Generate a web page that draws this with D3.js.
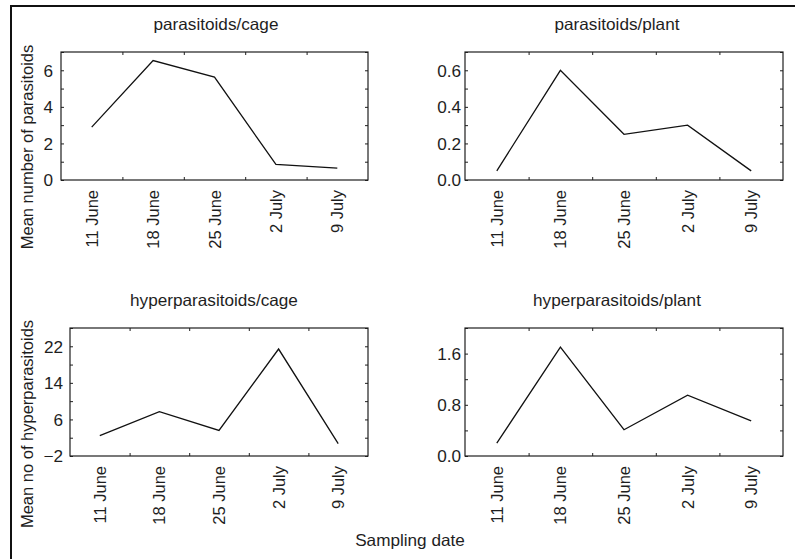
<!DOCTYPE html>
<html>
<head>
<meta charset="utf-8">
<script src="https://cdn.jsdelivr.net/npm/d3@7"></script>
<style>
  html, body { margin: 0; padding: 0; background: #fff; }
  svg { display: block; }
  text { font-family: Arial, "Liberation Sans", sans-serif; fill: #1e1e1e; }
</style>
</head>
<body>
<svg id="chart" width="795" height="559"></svg>
<script>
// ---------------- data ----------------
const dates = ["11 June", "18 June", "25 June", "2 July", "9 July"];
const titles = ["parasitoids/cage", "parasitoids/plant", "hyperparasitoids/cage", "hyperparasitoids/plant"];
const parasitoidsCage = [2.89, 6.53, 5.63, 0.85, 0.65];
const parasitoidsPlant = [0.05, 0.60, 0.25, 0.30, 0.05];
const hyperCage = [2.45, 7.7, 3.6, 21.4, 0.7];
const hyperPlant = [0.2, 1.7, 0.41, 0.95, 0.55];
const yDomains = [[0, 7], [0, 0.7], [-2, 26], [0, 2.0]];
const yMajorTicks = [[0, 2, 4, 6], [0, 0.2, 0.4, 0.6], [-2, 6, 14, 22], [0, 0.8, 1.6]];
const yMinorTicks = [[0,1,2,3,4,5,6,7], [0,0.1,0.2,0.3,0.4,0.5,0.6,0.7], [-2,2,6,10,14,18,22,26], [0,0.4,0.8,1.2,1.6,2.0]];
const yTickFormats = [d3.format("d"), d3.format(".1f"), d3.format("d"), d3.format(".1f")];
const yTitles = ["Mean number of parasitoids", "Mean no of hyperparasitoids"];
const xTitle = "Sampling date";
const seriesList = [parasitoidsCage, parasitoidsPlant, hyperCage, hyperPlant];

// ---------------- layout ----------------
const frames = [
  { x0: 61, x1: 368, y0: 52, y1: 180, titleX: 216, titleY: 30, pad: 8 },
  { x0: 465, x1: 783, y0: 52, y1: 180, titleX: 617, titleY: 30, pad: 4 },
  { x0: 70, x1: 368, y0: 328, y1: 456, titleX: 214, titleY: 306, pad: 7 },
  { x0: 465, x1: 783, y0: 328, y1: 456, titleX: 617, titleY: 306, pad: 4 }
];
const FS = 16.5;     // font size
const SX = 1.04;     // horizontal glyph stretch of the reference
const TICK = 3;
const INK = "#1e1e1e";

const svg = d3.select("#chart");

// outer border (left & top visible)
svg.append("rect").attr("x", 11).attr("y", 6).attr("width", 900).attr("height", 700)
  .attr("fill", "none").attr("stroke", "#111").attr("stroke-width", 2);

function stretchAt(x, y) {
  return `translate(${x},${y}) scale(${SX},1) translate(${-x},${-y})`;
}

frames.forEach((f, i) => {
  const g = svg.append("g");
  const x = d3.scaleBand().domain(dates).range([f.x0, f.x1]).padding(0);
  const xb = d3.scaleLinear().domain([0, dates.length]).range([f.x0, f.x1]);
  const y = d3.scaleLinear().domain(yDomains[i]).range([f.y1, f.y0]);
  const majors = yMajorTicks[i];
  const fmt = yTickFormats[i];
  const isMajor = v => majors.some(m => Math.abs(m - v) < 1e-9);

  // frame
  g.append("rect").attr("x", f.x0).attr("y", f.y0)
    .attr("width", f.x1 - f.x0).attr("height", f.y1 - f.y0)
    .attr("fill", "none").attr("stroke", INK).attr("stroke-width", 1.2);

  // left axis: inside ticks, labels at major values
  const left = g.append("g").attr("transform", `translate(${f.x0},0)`)
    .call(d3.axisLeft(y).tickValues(yMinorTicks[i]).tickSize(-TICK).tickPadding(f.pad)
      .tickFormat(v => isMajor(v) ? fmt(v) : ""));
  left.select(".domain").remove();
  left.selectAll(".tick line").attr("stroke", INK);
  left.selectAll(".tick text")
    .attr("fill", INK).attr("font-size", FS).attr("font-family", "Arial, 'Liberation Sans', sans-serif")
    .attr("dy", "0.35em")
    .attr("transform", () => stretchAt(-f.pad, 0));

  // right axis: inside ticks
  const right = g.append("g").attr("transform", `translate(${f.x1},0)`)
    .call(d3.axisRight(y).tickValues(yMinorTicks[i]).tickSize(-TICK).tickFormat(""));
  right.select(".domain").remove();
  right.selectAll(".tick line").attr("stroke", INK);

  // bottom / top ticks at category boundaries
  const bottomT = g.append("g").attr("transform", `translate(0,${f.y1})`)
    .call(d3.axisBottom(xb).tickValues([1, 2, 3, 4]).tickSize(-TICK).tickFormat(""));
  bottomT.select(".domain").remove();
  bottomT.selectAll(".tick line").attr("stroke", INK);
  const topT = g.append("g").attr("transform", `translate(0,${f.y0})`)
    .call(d3.axisTop(xb).tickValues([1, 2, 3, 4]).tickSize(-TICK).tickFormat(""));
  topT.select(".domain").remove();
  topT.selectAll(".tick line").attr("stroke", INK);

  // category labels (rotated)
  const bottomL = g.append("g").attr("transform", `translate(0,${f.y1})`)
    .call(d3.axisBottom(x).tickSize(0));
  bottomL.select(".domain").remove();
  bottomL.selectAll(".tick text")
    .attr("fill", INK).attr("font-size", FS).attr("font-family", "Arial, 'Liberation Sans', sans-serif")
    .attr("text-anchor", "end")
    .attr("x", -10).attr("y", 0).attr("dy", "0.35em")
    .attr("transform", `scale(${SX},1) rotate(-90)`);

  // line
  const line = d3.line()
    .x((d, k) => x(dates[k]) + x.bandwidth() / 2)
    .y(d => y(d));
  g.append("path").datum(seriesList[i])
    .attr("d", line).attr("fill", "none")
    .attr("stroke", "#111").attr("stroke-width", 1.3).attr("stroke-linejoin", "miter");

  // title
  g.append("text").attr("x", f.titleX).attr("y", f.titleY)
    .attr("text-anchor", "middle").attr("font-size", FS)
    .attr("transform", stretchAt(f.titleX, f.titleY))
    .text(titles[i]);
});

// y axis titles
const yTitlePos = [{ x: 33, y: 147 }, { x: 33, y: 424 }];
yTitles.forEach((t, k) => {
  const p = yTitlePos[k];
  svg.append("text")
    .attr("text-anchor", "middle").attr("font-size", FS)
    .attr("transform", `translate(${p.x},${p.y}) scale(${SX},1) rotate(-90)`)
    .text(t);
});

// x axis title
svg.append("text").attr("x", 410).attr("y", 546)
  .attr("text-anchor", "middle").attr("font-size", FS)
  .attr("transform", stretchAt(410, 546))
  .text(xTitle);
</script>
</body>
</html>
